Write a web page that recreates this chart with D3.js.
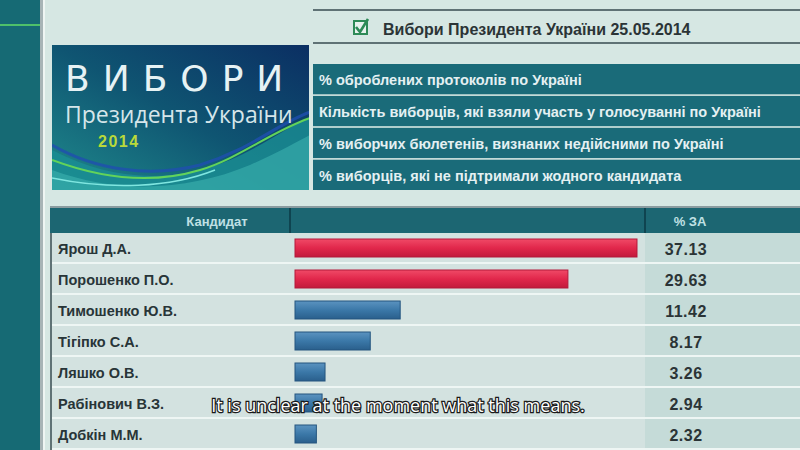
<!DOCTYPE html>
<html><head><meta charset="utf-8">
<script src="https://cdn.jsdelivr.net/npm/d3@7"></script>
<style>
body{margin:0;padding:0;background:#d6e7e3;overflow:hidden;}
svg{display:block;}
</style></head>
<body>
<svg id="c" width="800" height="450"></svg>
<script>
const candidates = ["Ярош Д.А.","Порошенко П.О.","Тимошенко Ю.В.","Тігіпко С.А.","Ляшко О.В.","Рабінович В.З.","Добкін М.М."];
const votes = [37.13, 29.63, 11.42, 8.17, 3.26, 2.94, 2.32];
const barColors = ["red","red","blue","blue","blue","blue","blue"];
const infoRows = ["% оброблених протоколів по Україні","Кількість виборців, які взяли участь у голосуванні по Україні","% виборчих бюлетенів, визнаних недійсними по Україні","% виборців, які не підтримали жодного кандидата"];
const title = "Вибори Президента України 25.05.2014";
const headers = ["Кандидат","% ЗА"];
const caption = "It is unclear at the moment what this means.";

const svg = d3.select("#c");
const font = "'Liberation Sans', Arial, sans-serif";
const defs = svg.append("defs");

// background
svg.append("rect").attr("width",800).attr("height",450).attr("fill","#d6e7e3");
// left strip
svg.append("rect").attr("x",0).attr("y",0).attr("width",40).attr("height",450).attr("fill","#166a74");
svg.append("rect").attr("x",0).attr("y",24).attr("width",40).attr("height",2).attr("fill","#4fc06a");
svg.append("rect").attr("x",40).attr("y",0).attr("width",3).attr("height",450).attr("fill","#a7b4b6");
svg.append("rect").attr("x",43).attr("y",0).attr("width",2).attr("height",450).attr("fill","#eef5f3");

// top header lines and title
svg.append("rect").attr("x",313).attr("y",9).attr("width",487).attr("height",2).attr("fill","#5f7275");
svg.append("rect").attr("x",313).attr("y",42).attr("width",487).attr("height",2).attr("fill","#5f7275");
const cb = svg.append("g").attr("transform","translate(354,21)");
cb.append("rect").attr("width",13).attr("height",13).attr("fill","#e8f2ee").attr("stroke","#2d8a57").attr("stroke-width",2);
cb.append("path").attr("d","M2,6 L6,11 L14,-2").attr("fill","none").attr("stroke","#2d8a57").attr("stroke-width",2.6);
svg.append("text").attr("x",383).attr("y",35).attr("font-family",font).attr("font-weight","bold")
  .attr("font-size",16).attr("fill","#2b3436").text(title);

// logo box
const lg = defs.append("linearGradient").attr("id","lg").attr("x1","0").attr("y1","1").attr("x2","1").attr("y2","0");
lg.append("stop").attr("offset","0").attr("stop-color","#1f8a8c");
lg.append("stop").attr("offset","0.5").attr("stop-color","#0f5572");
lg.append("stop").attr("offset","1").attr("stop-color","#0b2f63");
svg.append("rect").attr("x",52).attr("y",45).attr("width",257).attr("height",145).attr("fill","url(#lg)");
const clip = defs.append("clipPath").attr("id","logoClip");
clip.append("rect").attr("x",52).attr("y",45).attr("width",257).attr("height",145);
const logo = svg.append("g").attr("clip-path","url(#logoClip)");
logo.append("path").attr("d","M52,150 C110,180 170,185 230,160 C265,145 290,125 310,118 L310,190 L52,190 Z").attr("fill","#1a8f94").attr("opacity",0.8);
logo.append("path").attr("d","M52,170 C120,195 190,190 250,165 C280,152 300,140 310,135 L310,190 L52,190 Z").attr("fill","#3fb7b2").attr("opacity",0.55);
logo.append("path").attr("d","M52,160 C100,178 150,185 200,170 C240,158 270,132 310,118").attr("fill","none").attr("stroke","#62d35a").attr("stroke-width",2);
logo.append("path").attr("d","M52,145 C95,170 150,178 200,165 C250,150 275,125 310,112").attr("fill","none").attr("stroke","#1f4fb0").attr("stroke-width",3).attr("opacity",0.8);
logo.append("path").attr("d","M52,178 C110,190 170,188 215,170").attr("fill","none").attr("stroke","#7fe6e0").attr("stroke-width",1.5);
logo.append("text").attr("x",65).attr("y",91).attr("font-family","'DejaVu Sans', sans-serif").attr("font-size",36)
  .attr("letter-spacing",13).attr("fill","#e6f2f4").text("ВИБОРИ");
logo.append("text").attr("x",65).attr("y",123).attr("font-family","'Open Sans', sans-serif").attr("font-size",23)
  .attr("fill","#d6e6ea").text("Президента України");
logo.append("text").attr("x",98).attr("y",147).attr("font-family",font).attr("font-weight","bold").attr("font-size",16)
  .attr("letter-spacing",1.5).attr("fill","#b9d93a").text("2014");

// info rows
const infoY = d3.scaleBand().domain(d3.range(infoRows.length)).range([64,190]).paddingInner(0.05);
svg.selectAll(".info").data(infoRows).join("g").attr("class","info").each(function(d,i){
  const g = d3.select(this);
  g.append("rect").attr("x",313).attr("y",infoY(i)).attr("width",487).attr("height",infoY.bandwidth()).attr("fill","#1a6b79");
  g.append("text").attr("x",319).attr("y",infoY(i)+infoY.bandwidth()/2+6).attr("font-family",font).attr("font-weight","bold")
   .attr("font-size",14.5).attr("fill","#e4f0f2").text(d);
});

// table header
svg.append("rect").attr("x",50).attr("y",208).attr("width",750).attr("height",25).attr("fill","#1c6672");
svg.append("rect").attr("x",50).attr("y",206).attr("width",750).attr("height",2).attr("fill","#8a9ca0");
svg.append("rect").attr("x",289).attr("y",208).attr("width",2).attr("height",25).attr("fill","#0f4450");
svg.append("rect").attr("x",644).attr("y",208).attr("width",2).attr("height",25).attr("fill","#0f4450");
svg.append("text").attr("x",217).attr("y",226).attr("text-anchor","middle").attr("font-family",font).attr("font-weight","bold")
  .attr("font-size",13).attr("fill","#bfe0e4").text(headers[0]);
svg.append("text").attr("x",690).attr("y",226).attr("text-anchor","middle").attr("font-family",font).attr("font-weight","bold")
  .attr("font-size",13).attr("fill","#bfe0e4").text(headers[1]);

// rows
const y = d3.scaleBand().domain(candidates).range([233, 450]).paddingInner(0);
const x = d3.scaleLinear().domain([0, 38]).range([295, 645]);
svg.append("rect").attr("x",50).attr("y",233).attr("width",2).attr("height",217).attr("fill","#5f7275");
const rows = svg.selectAll(".row").data(candidates).join("g").attr("class","row");
rows.append("rect").attr("x",52).attr("y",d=>y(d)).attr("width",593).attr("height",y.bandwidth()).attr("fill","#d3e2e0");
rows.append("rect").attr("x",645).attr("y",d=>y(d)).attr("width",155).attr("height",y.bandwidth()).attr("fill","#c5dbd8");
rows.append("rect").attr("x",52).attr("y",d=>y(d)+y.bandwidth()-2).attr("width",748).attr("height",2).attr("fill","#eef6f4");
rows.append("text").attr("x",58).attr("y",d=>y(d)+y.bandwidth()/2+5).attr("font-family",font).attr("font-weight","bold")
  .attr("font-size",14.5).attr("fill","#283538").text(d=>d);

// bar gradients
["red","blue"].forEach((k,i)=>{
  const c = i===0 ? ["#f04a67","#e1274b","#c21a3c"] : ["#5b93c0","#3b78a8","#2a5f8c"];
  const g = defs.append("linearGradient").attr("id","g"+k).attr("x1",0).attr("y1",0).attr("x2",0).attr("y2",1);
  g.append("stop").attr("offset",0).attr("stop-color",c[0]);
  g.append("stop").attr("offset",0.5).attr("stop-color",c[1]);
  g.append("stop").attr("offset",1).attr("stop-color",c[2]);
});
svg.selectAll(".bar").data(votes).join("rect").attr("class","bar")
  .attr("x",x(0)).attr("y",(d,i)=>y(candidates[i])+6).attr("height",y.bandwidth()-13)
  .attr("width",d=>x(d)-x(0))
  .attr("fill",(d,i)=>"url(#g"+barColors[i]+")")
  .attr("stroke",(d,i)=>barColors[i]==="red" ? "#b3183a" : "#24557f").attr("stroke-width",1);

svg.selectAll(".val").data(votes).join("text").attr("class","val")
  .attr("x",686).attr("y",(d,i)=>y(candidates[i])+y.bandwidth()/2+6).attr("text-anchor","middle")
  .attr("font-family",font).attr("font-weight","bold").attr("font-size",16).attr("letter-spacing",0.5).attr("fill","#2b3436")
  .text(d=>d.toFixed(2));

// caption subtitle
svg.append("text").attr("x",398).attr("y",412).attr("text-anchor","middle").attr("font-family","'Open Sans', sans-serif")
  .attr("font-size",18).attr("fill","#ffffff").attr("stroke","#1a1a1a").attr("stroke-width",2.5)
  .attr("paint-order","stroke").text(caption);
</script>
</body></html>
